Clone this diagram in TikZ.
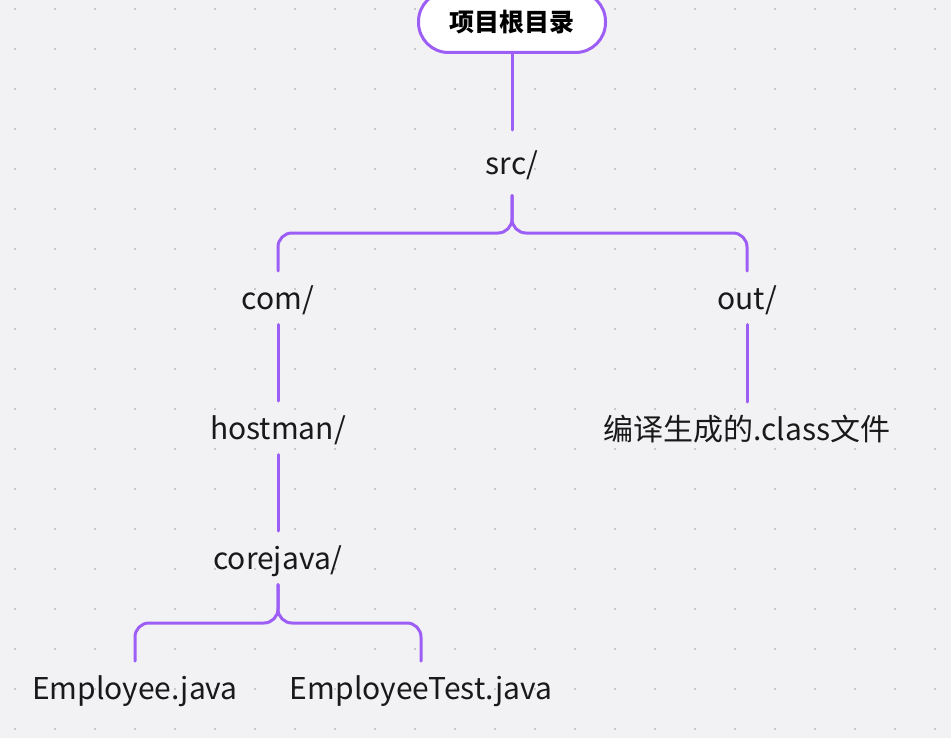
\documentclass[tikz,border=0pt]{standalone}
\usepackage{fontspec}
\setmainfont{Noto Sans CJK SC}
\definecolor{bgc}{RGB}{242,242,245}
\definecolor{dotc}{RGB}{200,200,204}
\definecolor{linec}{RGB}{157,94,245}
\definecolor{txtc}{RGB}{25,25,25}
\tikzset{
  conn/.style={draw=linec, line width=3bp, line cap=round, rounded corners=14bp},
  lbl/.style={inner sep=0pt, outer xsep=0pt, outer ysep=12bp, text=txtc,
    font=\fontsize{30bp}{35bp}\selectfont, text height=26bp, text depth=3.5bp},
  rootbox/.style={draw=linec, fill=white, line width=3bp, rounded corners=30bp,
    minimum width=187bp, minimum height=61bp, inner sep=0pt, outer sep=0pt,
    font=\fontsize{25bp}{30bp}\selectfont\bfseries, text=black}
}
\begin{document}
\begin{tikzpicture}[x=1bp, y=-1bp]
\useasboundingbox (0,0) rectangle (951,738);
\fill[bgc] (0,0) rectangle (951,738);
\foreach \i in {0,...,23}{
  \foreach \j in {0,...,18}{
    \fill[dotc] ({15+40*\i-1},{9+40*\j-1}) rectangle ++(2,2);
  }
}
\node[rootbox] (root) at (512,22) {项目根目录};
\node[lbl, anchor=base, outer ysep=18bp] (src) at (512,174) {src/};
\node[lbl, anchor=base] (com) at (278,309) {com/};
\node[lbl, anchor=base] (out) at (747,309) {out/};
\node[lbl, anchor=base] (host) at (278,439) {hostman/};
\node[lbl, anchor=base] (cls) at (747,440) {编译生成的.class文件};
\node[lbl, anchor=base] (core) at (278,569) {corejava/};
\node[lbl, anchor=base] (emp) at (135,699) {Employee.java};
\node[lbl, anchor=base] (empt) at (421,699) {EmployeeTest.java};
\coordinate (s1) at (512,233);
\coordinate (s2) at (278,623);
\draw[conn] (root.south) -- (src.north);
\draw[conn] (src.south) -- (s1) -| (com.north);
\draw[conn] (src.south) -- (s1) -| (out.north);
\draw[conn] (com.south) -- (host.north);
\draw[conn] (host.south) -- (core.north);
\draw[conn] (out.south) -- (cls.north);
\draw[conn] (core.south) -- (s2) -| (emp.north);
\draw[conn] (core.south) -- (s2) -| (empt.north);
\end{tikzpicture}
\end{document}
